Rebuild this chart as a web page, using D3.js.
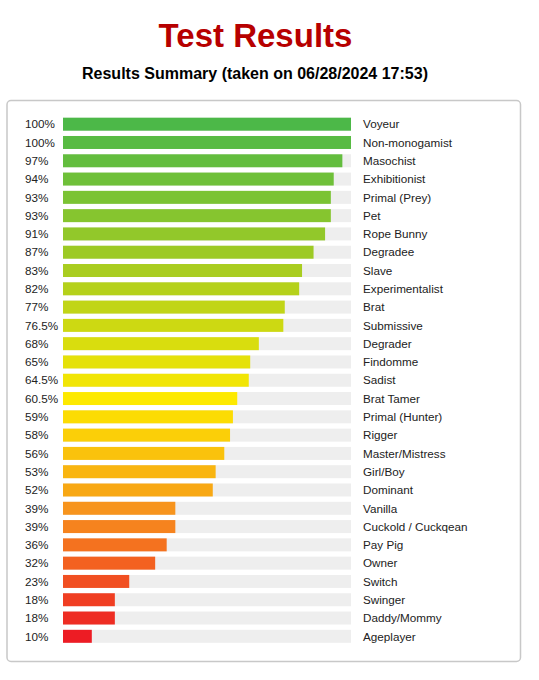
<!DOCTYPE html>
<html>
<head>
<meta charset="utf-8">
<script src="https://cdn.jsdelivr.net/npm/d3@7"></script>
<style>
  html, body { margin: 0; padding: 0; background: #fff; }
  svg { display: block; font-family: "Liberation Sans", Arial, sans-serif; }
</style>
</head>
<body>
<svg id="chart" width="539" height="680"></svg>
<script>
const title = "Test Results";
const subtitle = "Results Summary (taken on 06/28/2024 17:53)";
const categories = ["Voyeur","Non-monogamist","Masochist","Exhibitionist","Primal (Prey)","Pet","Rope Bunny","Degradee","Slave","Experimentalist","Brat","Submissive","Degrader","Findomme","Sadist","Brat Tamer","Primal (Hunter)","Rigger","Master/Mistress","Girl/Boy","Dominant","Vanilla","Cuckold / Cuckqean","Pay Pig","Owner","Switch","Swinger","Daddy/Mommy","Ageplayer"];
const values = [100,100,97,94,93,93,91,87,83,82,77,76.5,68,65,64.5,60.5,59,58,56,53,52,39,39,36,32,23,18,18,10];
const valueLabels = ["100%","100%","97%","94%","93%","93%","91%","87%","83%","82%","77%","76.5%","68%","65%","64.5%","60.5%","59%","58%","56%","53%","52%","39%","39%","36%","32%","23%","18%","18%","10%"];
const colorStops = ["#4cb848","#a9cd20","#fde900","#f8a814","#f7941d","#ed1c24"];
const colorStopRanks = [0, 8, 15, 20, 21, 28];

const svg = d3.select("#chart");

svg.append("text").attr("x", 255.5).attr("y", 47).attr("text-anchor", "middle")
  .attr("font-size", 33).attr("font-weight", "bold").attr("fill", "#b70000").text(title);
svg.append("text").attr("x", 255).attr("y", 79).attr("text-anchor", "middle")
  .attr("font-size", 16).attr("font-weight", "bold").attr("fill", "#000").text(subtitle);

svg.append("rect").attr("x", 7).attr("y", 100.5).attr("width", 513.5).attr("height", 561)
  .attr("rx", 4).attr("fill", "#fff").attr("stroke", "#c8c8c8").attr("stroke-width", 1.5);

const x = d3.scaleLinear().domain([0, 100]).range([63, 351]);
const y = d3.scaleBand().domain(categories).range([117.7, 117.7 + 18.29 * (29 - 0.29)])
  .paddingInner(0.29).paddingOuter(0);
const color = d3.scaleLinear().domain(colorStopRanks).range(colorStops).interpolate(d3.interpolateRgb);

const rows = svg.append("g").selectAll("g").data(categories).join("g")
  .attr("transform", d => `translate(0,${y(d)})`);

rows.append("rect").attr("x", x(0)).attr("width", x(100) - x(0)).attr("height", y.bandwidth())
  .attr("fill", "#eeeeee");
rows.append("rect").attr("x", x(0)).attr("width", (d, i) => x(values[i]) - x(0))
  .attr("height", y.bandwidth()).attr("fill", (d, i) => color(i));

rows.append("text").attr("x", 25).attr("y", y.bandwidth() / 2).attr("dy", "0.36em")
  .attr("font-size", 11.7).attr("fill", "#222").text((d, i) => valueLabels[i]);
rows.append("text").attr("x", 363).attr("y", y.bandwidth() / 2).attr("dy", "0.36em")
  .attr("font-size", 11.7).attr("fill", "#222").text(d => d);
</script>
</body>
</html>
